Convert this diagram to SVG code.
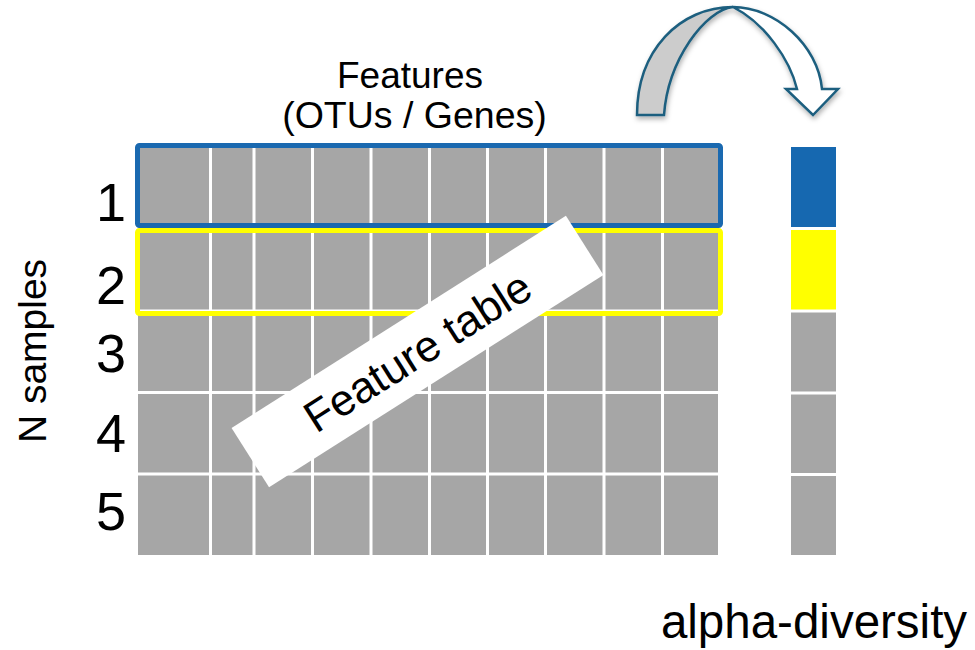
<svg xmlns="http://www.w3.org/2000/svg" width="975" height="650" viewBox="0 0 975 650">
<style>
text{font-family:"Liberation Sans",Arial,sans-serif;fill:#000}
.cell{fill:#a6a6a6}
.sep{stroke:#fff;stroke-width:3}
.arr{stroke:#1f5f7f;stroke-width:2.5;stroke-linejoin:miter}
</style>
<defs>
<filter id="sh" x="-20%" y="-20%" width="140%" height="150%">
<feDropShadow dx="1" dy="3" stdDeviation="2.5" flood-color="#000" flood-opacity="0.3"/>
</filter>
</defs>
<g id="feature-grid">
<rect class="cell" x="138" y="147" width="580" height="408"/>
<path class="sep" d="M210.5,147V555M254,147V555M312.5,147V555M371,147V555M429.5,147V555M487.5,147V555M545.5,147V555M604,147V555M662.5,147V555M138,229H718M138,311H718M138,392.5H718M138,474H718"/>
<rect x="137.5" y="230.5" width="583" height="83" rx="2" fill="none" stroke="#ffff00" stroke-width="5"/>
<rect x="137.5" y="145.5" width="583" height="80" rx="2" fill="none" stroke="#1a69b0" stroke-width="5"/>
</g>
<g id="alpha-bar">
<rect class="cell" x="791" y="147" width="45" height="408"/>
<rect x="791" y="147" width="45" height="80.5" fill="#1668b0"/>
<rect x="791" y="229.5" width="45" height="80.5" fill="#ffff00"/>
<path class="sep" d="M791,228.5H836M791,311H836M791,393H836M791,474.5H836"/>
</g>
<g id="labels">
<text x="410" y="88" font-size="37" text-anchor="middle">Features</text>
<text x="414.5" y="128" font-size="37.5" text-anchor="middle">(OTUs / Genes)</text>
<text x="32" y="351" font-size="39" text-anchor="middle" transform="rotate(-90 32 351)" dominant-baseline="central">N samples</text>
<text x="814" y="638" font-size="47.5" text-anchor="middle">alpha-diversity</text>
</g>
<g id="row-numbers" font-size="54" text-anchor="middle">
<text x="111" y="221">1</text>
<text x="111" y="304">2</text>
<text x="111" y="372">3</text>
<text x="111" y="452">4</text>
<text x="111" y="530">5</text>
</g>
<g id="feature-table-label" transform="translate(417.5 351.5) rotate(-32.4)">
<rect x="-198" y="-35" width="396" height="70" fill="#fff"/>
<text x="0" y="0" font-size="44" text-anchor="middle" dominant-baseline="central">Feature table</text>
</g>
<g id="connectors" filter="url(#sh)">
<path class="arr" fill="#cccccc" d="M637,115 C637,50 680,7 733,7 C705,10 668,60 664,115 Z"/>
<path class="arr" fill="#ffffff" d="M733,7 C775,7 818,45 822,89 L838,89 L813,115 L786,89 L797,89 C790,60 765,23 733,7 Z"/>
</g>
</svg>
